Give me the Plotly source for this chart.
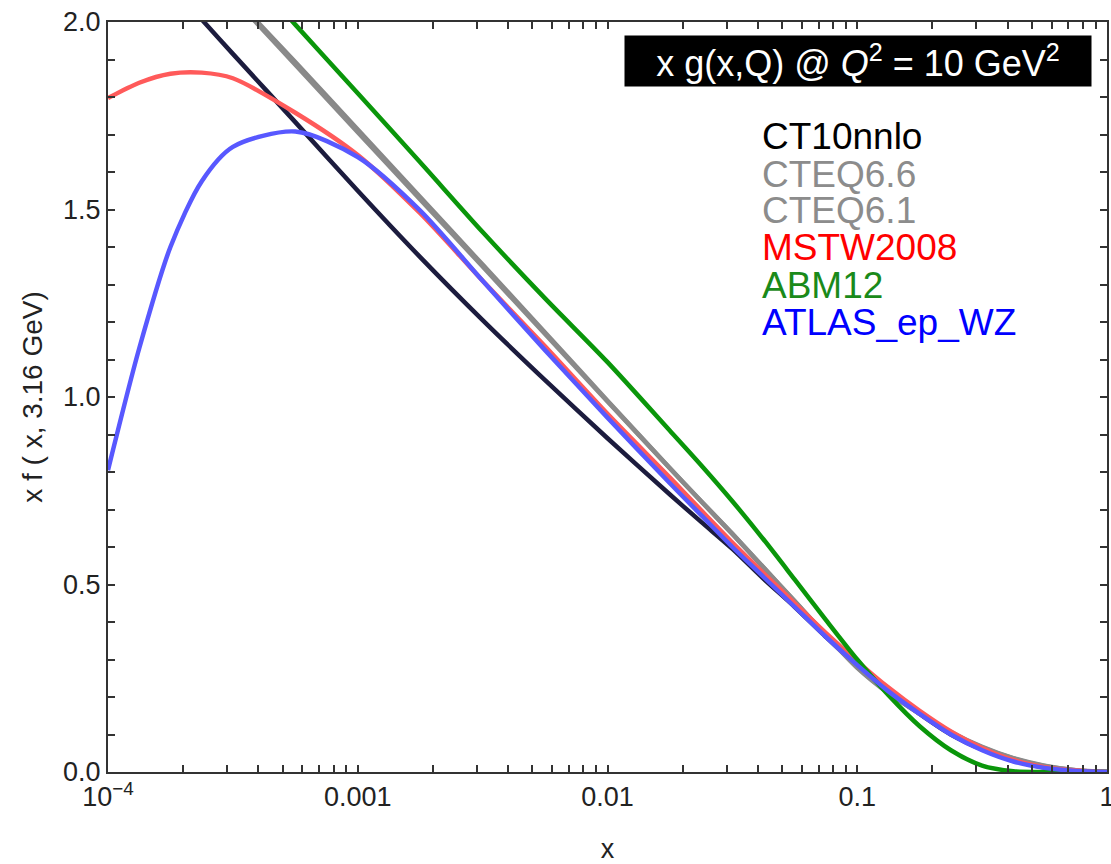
import plotly.graph_objects as go

# x grid (momentum fraction)
x_vals = [1e-4, 1.334e-4, 1.778e-4, 2.371e-4, 3.162e-4, 5.623e-4, 1e-3, 1.778e-3,
          3.162e-3, 5.623e-3, 1e-2, 1.778e-2, 2.371e-2, 3.162e-2, 4.217e-2, 5.623e-2,
          7.499e-2, 0.1, 0.1334, 0.1778, 0.2371, 0.3162, 0.4217, 0.5623, 0.7499, 1.0]

ct10nnlo = [2.28, 2.19, 2.10, 2.007, 1.915, 1.733, 1.55, 1.373, 1.205, 1.045, 0.89,
            0.74, 0.667, 0.595, 0.515, 0.44, 0.36, 0.283, 0.214, 0.155, 0.10, 0.06,
            0.03, 0.012, 0.003, 0.0]
cteq66 = [2.43, 2.34, 2.25, 2.16, 2.07, 1.893, 1.713, 1.533, 1.353, 1.172, 0.99,
          0.81, 0.722, 0.635, 0.545, 0.455, 0.365, 0.278, 0.21, 0.155, 0.105, 0.066,
          0.036, 0.016, 0.005, 0.0]
cteq61 = [2.42, 2.33, 2.24, 2.15, 2.065, 1.886, 1.706, 1.527, 1.348, 1.168, 0.988,
          0.81, 0.722, 0.635, 0.545, 0.455, 0.365, 0.28, 0.212, 0.157, 0.107, 0.067,
          0.037, 0.017, 0.005, 0.0]
mstw2008 = [1.797, 1.838, 1.862, 1.865, 1.85, 1.758, 1.645, 1.49, 1.31, 1.135, 0.955,
            0.785, 0.698, 0.612, 0.53, 0.45, 0.37, 0.295, 0.225, 0.163, 0.108, 0.064,
            0.032, 0.013, 0.004, 0.0]
abm12 = [2.54, 2.45, 2.36, 2.27, 2.177, 1.993, 1.81, 1.626, 1.44, 1.263, 1.093,
         0.91, 0.818, 0.722, 0.62, 0.513, 0.405, 0.30, 0.205, 0.122, 0.058, 0.017,
         0.002, 0.0, 0.0, 0.0]
atlas = [0.805, 1.13, 1.40, 1.575, 1.667, 1.708, 1.64, 1.497, 1.31, 1.125, 0.945,
         0.77, 0.685, 0.60, 0.52, 0.44, 0.36, 0.285, 0.215, 0.155, 0.10, 0.058,
         0.028, 0.011, 0.003, 0.0]

names = ["CT10nnlo", "CTEQ6.6", "CTEQ6.1", "MSTW2008", "ABM12", "ATLAS_ep_WZ"]
series = [ct10nnlo, cteq66, cteq61, mstw2008, abm12, atlas]
line_colors = ["#1c1c3e", "#888888", "#8a8a8a", "#ff5a5a", "#0a960a", "#5858ff"]
text_colors = ["#000000", "#8c8c8c", "#8c8c8c", "#ff0000", "#1a8a1a", "#0000ff"]

# major ticks with labels, plus unlabeled minor ticks
x_major = [1e-4, 1e-3, 1e-2, 1e-1, 1]
x_major_text = ["10<sup>\u22124</sup>", "0.001", "0.01", "0.1", "1"]
x_minor = [m * 10 ** e for e in (-4, -3, -2, -1) for m in range(2, 10)]
y_major = [0.0, 0.5, 1.0, 1.5, 2.0]
y_major_text = ["0.0", "0.5", "1.0", "1.5", "2.0"]
y_minor = [i / 10 for i in range(1, 20) if i % 5 != 0]

x_tickvals = x_major + x_minor
x_ticktext = x_major_text + [""] * len(x_minor)
y_tickvals = y_major + y_minor
y_ticktext = y_major_text + [""] * len(y_minor)

FONT = "Liberation Sans, Arial, Helvetica, sans-serif"
AX = "#333333"

fig = go.Figure()
for nm, ys, c in zip(names, series, line_colors):
    fig.add_trace(go.Scatter(x=x_vals, y=ys, mode="lines", name=nm,
                             line=dict(color=c, width=4.5, shape="spline", smoothing=0.8),
                             showlegend=False))

# coloured-text legend
leg_y = [0.848, 0.797, 0.749, 0.700, 0.649, 0.600]
for nm, tc, yy in zip(names, text_colors, leg_y):
    fig.add_annotation(xref="paper", yref="paper", x=0.6527, y=yy, xanchor="left",
                       yanchor="middle", text=nm, showarrow=False,
                       font=dict(family=FONT, size=37, color=tc))

# boxed title
fig.add_annotation(xref="paper", yref="paper", x=0.7508, y=0.948, xanchor="center",
                   yanchor="middle", showarrow=False,
                   text="x g(x,Q) @ <i>Q</i><sup>2</sup> = 10 GeV<sup>2</sup>",
                   font=dict(family=FONT, size=36, color="white"),
                   bgcolor="black", width=466, height=50, borderpad=0)

common = dict(showline=True, linecolor=AX, linewidth=2, showgrid=False,
              zeroline=False, automargin=False, mirror="allticks",
              ticks="inside", ticklen=7, tickwidth=2, tickcolor=AX,
              tickmode="array",
              tickfont=dict(family=FONT, size=27, color="#222222"))

fig.update_layout(
    template="simple_white",
    xaxis=dict(**common, type="log", range=[-4, 0],
               tickvals=x_tickvals, ticktext=x_ticktext, ticklabeloverflow="allow",
               title=dict(text="x", font=dict(family=FONT, size=27, color="#222222"),
                          standoff=30)),
    yaxis=dict(**common, range=[0, 2], tickvals=y_tickvals, ticktext=y_ticktext,
               title=dict(text="x f ( x, 3.16 GeV)",
                          font=dict(family=FONT, size=28, color="#222222"),
                          standoff=12)),
    width=1111, height=864, autosize=False,
    margin=dict(l=108, r=4, t=22, b=92),
    paper_bgcolor="white", plot_bgcolor="white",
    font=dict(family=FONT),
)

fig.write_html("out.html")
